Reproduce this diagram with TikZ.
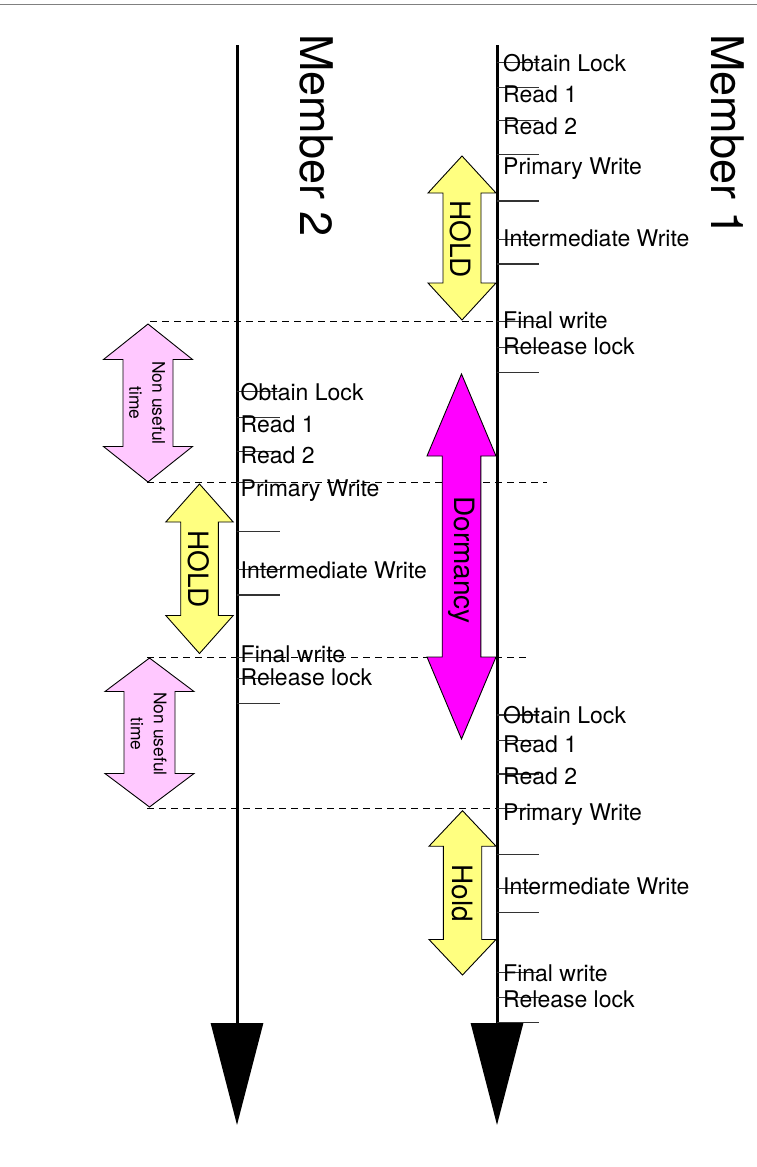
\documentclass[tikz,border=0pt]{standalone}
\usepackage{fontspec}
\setmainfont{TeX Gyre Heros}
\usetikzlibrary{arrows.meta}

\definecolor{giallo}{RGB}{255,255,128}
\definecolor{rosa}{RGB}{255,200,255}
\definecolor{viola}{RGB}{255,0,255}

%freccia doppia: x, y alto, y basso, semilarghezza punta, semilarghezza corpo, lunghezza punta, colore
\newcommand{\doppiafreccia}[7]{%
  \filldraw[line width=0.9pt,fill=#7] (#1,#2)--(#1+#4,#2+#6)--(#1+#5,#2+#6)--(#1+#5,#3-#6)
    --(#1+#4,#3-#6)--(#1,#3)--(#1-#4,#3-#6)--(#1-#5,#3-#6)--(#1-#5,#2+#6)--(#1-#4,#2+#6)--cycle;}

\begin{document}
\begin{tikzpicture}[x=1pt,y=-1pt,
    asse/.style={line width=3pt,-{Triangle[width=52pt,length=102pt]}},
    tacca/.style={line width=1.1pt,black!80},
    tratteggio/.style={line width=1pt,dash pattern=on 7pt off 5pt},
    voce/.style={anchor=base west,inner sep=0pt,font=\fontsize{23}{27}\selectfont},
    membro/.style={rotate=-90,anchor=west,inner sep=0pt,font=\fontsize{45}{54}\selectfont},
    testofreccia/.style={rotate=-90,inner sep=0pt,font=\fontsize{28}{33}\selectfont},
    piccolo/.style={rotate=-90,inner sep=0pt,align=center,font=\fontsize{17.4}{23}\selectfont}]

    \useasboundingbox (0,0) rectangle (757,1167);
    %bordo
    \draw[gray,line width=1.2pt] (0,4.5)--(757,4.5);

    %tratteggi
    \draw[tratteggio] (150,321.7)--(497,321.7);
    \draw[tratteggio] (147,482.7)--(547,482.7);
    \draw[tratteggio] (147,657.3)--(530,657.3);
    \draw[tratteggio] (147,808.3)--(497,808.3);

    %frecce
    \doppiafreccia{462}{156}{320}{34}{19}{37}{giallo}
    \doppiafreccia{461.5}{374}{739}{34.5}{19.3}{82}{viola}
    \doppiafreccia{199.5}{484}{653.5}{33.7}{18.8}{38}{giallo}
    \doppiafreccia{148}{324}{482}{44.5}{25}{35.5}{rosa}
    \doppiafreccia{149.5}{658}{807}{44.5}{25.5}{33.5}{rosa}
    \doppiafreccia{462.5}{810.7}{975}{33.5}{19.2}{35.5}{giallo}

    \node[testofreccia] (hold1) at (461,239) {HOLD};
    \node[testofreccia] (dorm) at (461.5,560) {Dormancy};
    \node[testofreccia] (hold2) at (199,569) {HOLD};
    \node[testofreccia] (hold3) at (462.5,893) {Hold};
    \node[piccolo] (inutile1) at (147,403) {Non useful\\time};
    \node[piccolo] (inutile2) at (148.5,734) {Non useful\\time};

    %assi
    \coordinate (m2top) at (237,45);
    \coordinate (m2fine) at (237,1125);
    \coordinate (m1top) at (497,45);
    \coordinate (m1fine) at (497,1125);
    \draw[asse] (m2top)--(m2fine);
    \draw[asse] (m1top)--(m1fine);

    %tacche membro 1
    \draw[tacca] (497,62.3)--++(42,0) (497,87.3)--++(42,0) (497,120.7)--++(42,0)
        (497,154.3)--++(42,0) (497,201)--++(42,0) (497,239.3)--++(42,0)
        (497,264)--++(42,0) (497,321.7)--++(42,0) (497,347.3)--++(42,0)
        (497,372.7)--++(42,0);
    \draw[tacca] (497,715)--++(42,0) (497,740.7)--++(42,0) (497,774)--++(42,0)
        (497,808.3)--++(42,0) (497,854.3)--++(42,0) (497,888.3)--++(42,0)
        (497,912.7)--++(42,0) (497,972.7)--++(42,0) (497,997.3)--++(42,0)
        (497,1022.3)--++(42,0);
    %tacche membro 2
    \draw[tacca] (237,391.7)--++(43,0) (237,417.7)--++(43,0) (237,451.7)--++(43,0)
        (237,482.7)--++(43,0) (237,531.7)--++(43,0) (237,569.3)--++(43,0)
        (237,595)--++(43,0) (237,657.3)--++(43,0) (237,678.3)--++(43,0)
        (237,703.3)--++(43,0);

    %titoli
    \node[membro] (membro2) at (316.5,34) {Member 2};
    \node[membro] (membro1) at (728,34) {Member 1};

    %membro 1
    \node[voce] (a1) at (503,71.7) {Obtain Lock};
    \node[voce] (a2) at (503,102.7) {Read 1};
    \node[voce] (a3) at (503,134.3) {Read 2};
    \node[voce] (a4) at (503,174.3) {Primary Write};
    \node[voce] (a5) at (503,246.7) {Intermediate Write};
    \node[voce] (a6) at (503,328.3) {Final write};
    \node[voce] (a7) at (503,354) {Release lock};

    %membro 2
    \node[voce] (b1) at (240.5,400.7) {Obtain Lock};
    \node[voce] (b2) at (240.5,432.7) {Read 1};
    \node[voce] (b3) at (240.5,463.3) {Read 2};
    \node[voce] (b4) at (240.5,496.7) {Primary Write};
    \node[voce] (b5) at (240.5,578.3) {Intermediate Write};
    \node[voce] (b6) at (240.5,662.7) {Final write};
    \node[voce] (b7) at (240.5,685) {Release lock};

    %membro 1 di nuovo
    \node[voce] (c1) at (503,723.3) {Obtain Lock};
    \node[voce] (c2) at (503,752.7) {Read 1};
    \node[voce] (c3) at (503,784.3) {Read 2};
    \node[voce] (c4) at (503,820) {Primary Write};
    \node[voce] (c5) at (503,894) {Intermediate Write};
    \node[voce] (c6) at (503,981.7) {Final write};
    \node[voce] (c7) at (503,1007.3) {Release lock};

\end{tikzpicture}
\end{document}
